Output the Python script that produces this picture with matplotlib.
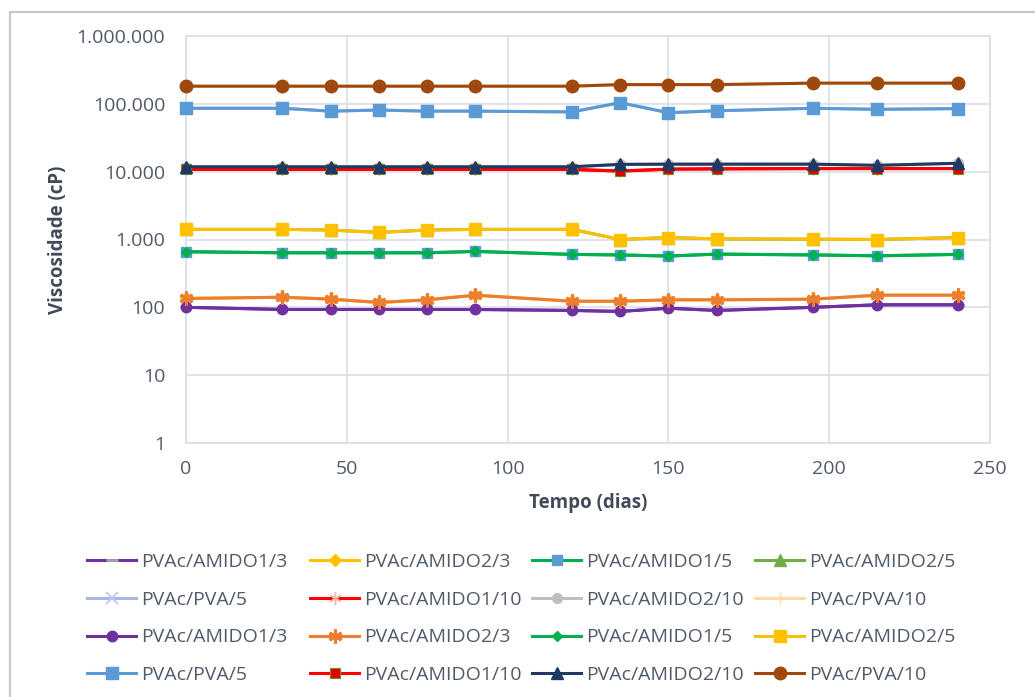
import matplotlib
matplotlib.use("Agg")
import matplotlib.pyplot as plt
from matplotlib.ticker import FixedLocator, FuncFormatter, NullLocator
from matplotlib.patches import Rectangle

plt.rcParams['font.family'] = ['Open Sans', 'DejaVu Sans']

# Storage time (days)
dias = [0, 30, 45, 60, 75, 90, 120, 135, 150, 165, 195, 215, 240]

# Viscosity (cP) per formulation
amido1_3 = [100, 93, 93, 93, 93, 93, 90, 87, 97, 90, 100, 109, 109]
amido2_3 = [135, 141, 132, 118, 129, 151, 123, 123, 129, 129, 132, 151, 151]
amido1_5 = [660, 637, 637, 637, 637, 667, 603, 592, 570, 609, 592, 575, 603]
amido2_5 = [1410, 1410, 1380, 1270, 1380, 1410, 1410, 1000, 1070, 1020, 1010, 1000, 1070]
pva_5 = [86000, 86000, 78000, 81000, 78000, 78000, 76000, 104000, 74000, 79000, 86000, 83000, 85000]
amido1_10 = [10800, 10800, 10800, 10800, 10800, 10800, 10800, 10200, 10900, 11000, 11100, 11100, 11100]
amido2_10 = [11800, 11800, 11800, 11800, 11800, 11800, 11800, 12800, 12900, 12900, 12900, 12400, 13300]
pva_10 = [182000, 182000, 182000, 182000, 182000, 182000, 182000, 192000, 192000, 192000, 202000, 202000, 202000]

nomes = ["PVAc/AMIDO1/3", "PVAc/AMIDO2/3", "PVAc/AMIDO1/5", "PVAc/AMIDO2/5",
         "PVAc/PVA/5", "PVAc/AMIDO1/10", "PVAc/AMIDO2/10", "PVAc/PVA/10"]
valores = [amido1_3, amido2_3, amido1_5, amido2_5, pva_5, amido1_10, amido2_10, pva_10]

y_ticks = [1, 10, 100, 1000, 10000, 100000, 1000000]
x_ticks = [0, 50, 100, 150, 200, 250]

TXT = "#505A68"

# First group of series (drawn underneath)
estilo_a = [
    dict(color="#7030A0", marker="_", mfc="#A5A5A5", mec="#A5A5A5", ms=8, mew=2),
    dict(color="#FFC000", marker="D", mfc="#FFC000", mec="#FFC000", ms=6),
    dict(color="#00B050", marker="s", mfc="#5B9BD5", mec="#5B9BD5", ms=7),
    dict(color="#70AD47", marker="^", mfc="#70AD47", mec="#70AD47", ms=8),
    dict(color="#A9B8E3", marker="x", mfc="#A9B8E3", mec="#BCC8EA", ms=9, mew=1.2),
    dict(color="#FF0000", marker=(6, 2, 0), mfc="#F4B6A5", mec="#F4B6A5", ms=9, mew=1.0),
    dict(color="#BFBFBF", marker="o", mfc="#BFBFBF", mec="#BFBFBF", ms=7),
    dict(color="#FFD9A6", marker="+", mfc="#FFD9A6", mec="#FFD9A6", ms=9, mew=1.0),
]
# Second group of series (drawn on top)
estilo_b = [
    dict(color="#7030A0", marker="o", mfc="#7030A0", mec="#7030A0", ms=7.5),
    dict(color="#ED7D31", marker=(6, 2, 0), mfc="#ED7D31", mec="#ED7D31", ms=10, mew=2.2),
    dict(color="#00B050", marker="D", mfc="#00B050", mec="#00B050", ms=5.5),
    dict(color="#FFC000", marker="s", mfc="#FFC000", mec="#FFC000", ms=9),
    dict(color="#5B9BD5", marker="s", mfc="#5B9BD5", mec="#5B9BD5", ms=9),
    dict(color="#FF0000", marker="s", mfc="#E00000", mec="#6E8F2E", ms=7.5, mew=0.8),
    dict(color="#1F3864", marker="^", mfc="#1F3864", mec="#1F3864", ms=9),
    dict(color="#9E480E", marker="o", mfc="#9E480E", mec="#9E480E", ms=9),
]

W, H = 1035, 697
fig = plt.figure(figsize=(W / 100, H / 100), dpi=100)
fig.patches.append(Rectangle((10 / W, -0.05), 1.2, 1 - 12 / H + 0.05,
                             transform=fig.transFigure, fill=False,
                             edgecolor="#C8C8C8", linewidth=1.6, zorder=0))

ax = fig.add_axes([186 / W, 1 - 443 / H, (990 - 186) / W, (443 - 36) / H])
ax.set_yscale("log")

handles = []
for grupo, z in ((estilo_a, 2), (estilo_b, 3)):
    for nome, vals, st in zip(nomes, valores, grupo):
        h, = ax.plot(dias, vals, linewidth=2.2, label=nome, zorder=z,
                     marker=st["marker"], markerfacecolor=st["mfc"],
                     markeredgecolor=st["mec"], markersize=st["ms"],
                     markeredgewidth=st.get("mew", 1.0), color=st["color"],
                     clip_on=False)
        handles.append(h)

ax.set_xlim(0, 250)
ax.set_ylim(1, 1000000)
ax.xaxis.set_major_locator(FixedLocator(x_ticks))
ax.yaxis.set_major_locator(FixedLocator(y_ticks))
ax.yaxis.set_minor_locator(NullLocator())
ax.yaxis.set_major_formatter(FuncFormatter(lambda v, p: f"{int(round(v)):,}".replace(",", ".")))

ax.grid(True, color="#D9DEE8", linewidth=1.2, zorder=0)
ax.set_axisbelow(True)
for s in ax.spines.values():
    s.set_color("#D9DEE8")
    s.set_linewidth(1.2)
ax.tick_params(axis="both", length=0, colors=TXT, labelsize=14)
ax.tick_params(axis="y", pad=15)
ax.tick_params(axis="x", pad=12)

ax.set_xlabel("Tempo (dias)", fontsize=13.5, fontweight="bold", color="#404A58", labelpad=11)
ax.set_ylabel("Viscosidade (cP)", fontsize=13.5, fontweight="bold", color="#404A58", labelpad=6)

# Legend: four columns at fixed positions, filled row by row
col_x = [77, 300, 522, 745]
for c, x0 in enumerate(col_x):
    hs = [handles[r * 4 + c] for r in range(4)]
    fig.legend(handles=hs, labels=[h.get_label() for h in hs], ncol=1,
               loc="upper left", bbox_to_anchor=(x0 / W, 1 - 543 / H),
               frameon=False, fontsize=14, handlelength=2.55, handletextpad=0.25,
               labelspacing=1.02, borderpad=0.0, labelcolor=TXT)

fig.savefig("out.png", dpi=100)
